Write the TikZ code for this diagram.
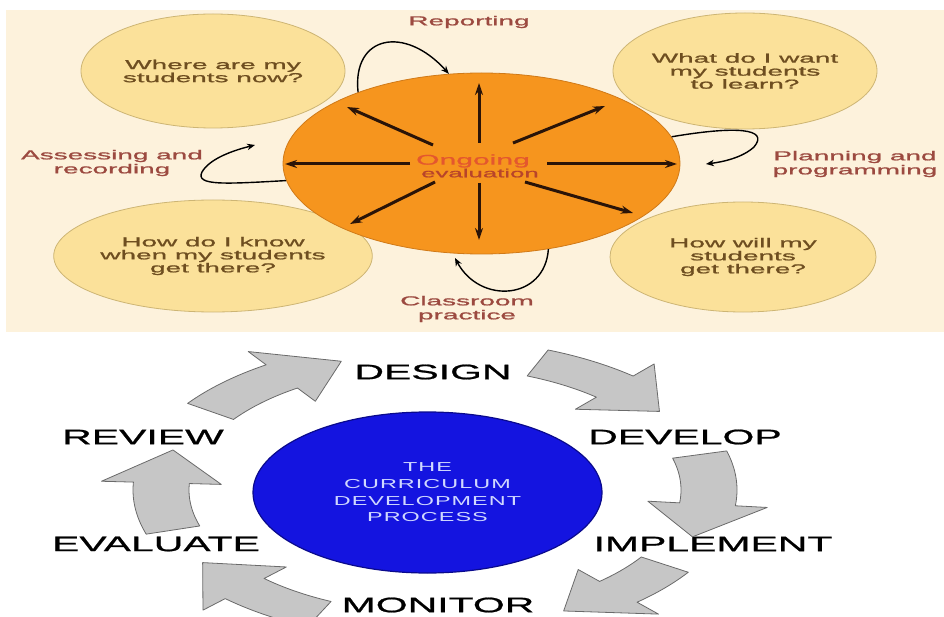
\documentclass[tikz,border=0pt]{standalone}
\usepackage{fontspec}
\setmainfont{Liberation Sans}
\newfontfamily\topfont[FakeStretch=2.15,FakeBold=1.2]{Liberation Sans}
\newfontfamily\botfont[FakeStretch=1.95,FakeBold=1]{Liberation Sans}
\newfontfamily\blufont[FakeStretch=1.8,LetterSpace=8]{Liberation Sans}
\usetikzlibrary{shapes.geometric,arrows.meta}
\definecolor{cream}{HTML}{FDF2DC}
\definecolor{pale}{HTML}{FBE19A}
\definecolor{paleedge}{HTML}{CDB574}
\definecolor{orng}{HTML}{F6951E}
\definecolor{orngedge}{HTML}{D07A18}
\definecolor{qtext}{HTML}{6E4E20}
\definecolor{ltext}{HTML}{9C4A40}
\definecolor{ongo}{HTML}{E4572E}
\definecolor{evtext}{HTML}{B8442A}
\definecolor{arrowdark}{HTML}{2A1408}
\definecolor{bblue}{HTML}{1414E0}
\definecolor{bblueedge}{HTML}{0A0A8C}
\definecolor{btext}{HTML}{D0D8FF}
\definecolor{gfill}{HTML}{C6C6C6}
\definecolor{gedge}{HTML}{6A6A6A}
% curved block arrow on the ring: #1 tail angle, #2 tip angle
\newcommand\garc[2]{%
  \pgfmathsetmacro\hb{#2+14}%
  \filldraw[garrow] plot[domain=#1:\hb, samples=25] (\x:302pt and 151pt)
    -- (\hb:334pt and 167pt) -- (#2:274pt and 137pt)
    -- (\hb:214pt and 107pt) -- (\hb:246pt and 123pt)
    -- plot[domain=\hb:#1, samples=25] (\x:246pt and 123pt) -- cycle;}
\begin{document}
\begin{tikzpicture}[x=1pt,y=-1pt,
  question/.style={ellipse, draw=paleedge, line width=0.8pt, fill=pale, text=qtext,
    font=\topfont\fontsize{13}{13}\selectfont, align=center, inner sep=0pt},
  lbl/.style={text=ltext, font=\topfont\fontsize{13}{14}\selectfont, align=center, inner sep=0pt},
  spoke/.style={arrowdark, line width=3pt, -{Stealth[length=12pt,width=8pt]}},
  loopline/.style={black, line width=1.4pt, -{Stealth[length=8pt,width=6.5pt]}},
  stage/.style={font=\botfont\fontsize{21}{21}\selectfont, inner sep=0pt},
  garrow/.style={fill=gfill, draw=gedge, line width=0.8pt, line join=round}
]
\useasboundingbox (0,0) rectangle (944,617);
\fill[cream] (6,10) rectangle (944,332);

% ---------- top panel ----------
\node[question, minimum width=264pt, minimum height=114pt] (q1) at (213,71) {Where are my\\students now?};
\node[question, minimum width=264pt, minimum height=116pt] (q2) at (745,71) {What do I want\\my students\\to learn?};
\node[question, minimum width=262pt, minimum height=112pt] (q3) at (213,256) {How do I know\\when my students\\get there?};
\node[question, minimum width=266pt, minimum height=110pt] (q4) at (743,257) {How will my\\students\\get there?};

\node[ellipse, fill=orng, draw=orngedge, line width=0.8pt, minimum width=397pt,
  minimum height=181pt, inner sep=0pt] (eval) at (481.5,163.5) {};

\coordinate (su0) at (479,143); \coordinate (su1) at (479,83);
\coordinate (sd0) at (479,183); \coordinate (sd1) at (479,240);
\coordinate (sl0) at (410,164); \coordinate (sl1) at (285,164);
\coordinate (sr0) at (547,164); \coordinate (sr1) at (677,164);
\coordinate (sul0) at (433,145); \coordinate (sul1) at (347,107);
\coordinate (sur0) at (513,143); \coordinate (sur1) at (605,106);
\coordinate (sll0) at (435,182); \coordinate (sll1) at (350,224);
\coordinate (slr0) at (525,182); \coordinate (slr1) at (633,213);
\foreach \s in {u,d,l,r,ul,ur,ll,lr} \draw[spoke] (s\s0) -- (s\s1);

\node[text=ongo, font=\topfont\fontsize{14}{14}\selectfont, inner sep=0pt] (ong) at (473,161) {Ongoing};
\node[text=evtext, font=\topfont\fontsize{12}{12}\selectfont, inner sep=0pt] (evl) at (480,173) {evaluation};

\coordinate (pl1) at (706,164);
\coordinate (cl1) at (455,258);
\coordinate (as1) at (255,145);
\draw[loopline] (eval.150) .. controls (352,35) and (405,25) .. (eval.110);
\draw[loopline] (eval.8) .. controls (735,126) and (770,128) .. (754,147) .. controls (742,158) and (722,162) .. (pl1);
\draw[loopline] (eval.-52) .. controls (545,300) and (480,305) .. (cl1);
\draw[loopline] (eval.185) .. controls (225,184) and (195,186) .. (202,172) .. controls (210,158) and (235,150) .. (as1);

\node[lbl] (rep) at (469,22) {Reporting};
\node[lbl] (ass) at (112,163) {Assessing and\\recording};
\node[lbl] (pla) at (855,164) {Planning and\\programming};
\node[lbl] (cla) at (467,309) {Classroom\\practice};

% ---------- bottom panel ----------
\node[ellipse, fill=bblue, draw=bblueedge, line width=1.2pt, minimum width=349pt,
  minimum height=161pt, inner sep=0pt, text=btext,
  font=\blufont\fontsize{13}{16.7}\selectfont, align=center] (proc) at (427.5,492.5)
  {THE\\CURRICULUM\\DEVELOPMENT\\PROCESS};

\node[stage] (design) at (433,372) {DESIGN};
\node[stage] (review) at (143,437) {REVIEW};
\node[stage] (develop) at (685,437) {DEVELOP};
\node[stage] (evaluate) at (156,544) {EVALUATE};
\node[stage] (implement) at (713,544) {IMPLEMENT};

\begin{scope}[shift={(435,490)}]
  \garc{145}{110}
  \garc{68}{35}
  \garc{15}{-20}
  \garc{-33}{-62}
  \garc{245}{212}
  \garc{197}{163}
\end{scope}
\node[stage] (monitor) at (438,605) {MONITOR};
\end{tikzpicture}
\end{document}
